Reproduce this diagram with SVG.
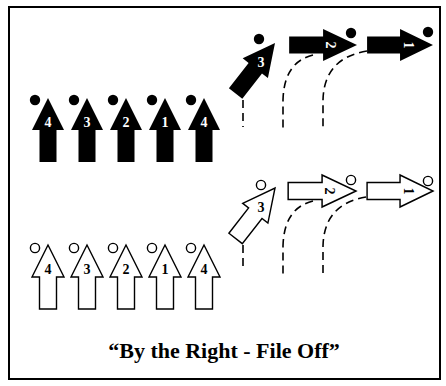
<svg xmlns="http://www.w3.org/2000/svg" xmlns:xlink="http://www.w3.org/1999/xlink" width="446" height="386" viewBox="0 0 446 386">
<style>
.blk{fill:#000}
.wht{fill:#fff;stroke:#000;stroke-width:1.4}
.dot{fill:#000}
.odot{fill:#fff;stroke:#000;stroke-width:1.4}
.nw{font-family:"Liberation Serif",serif;font-weight:bold;font-size:14px;fill:#fff;text-anchor:middle}
.nb{font-family:"Liberation Serif",serif;font-weight:bold;font-size:14px;fill:#000;text-anchor:middle}
.dash{fill:none;stroke:#000;stroke-width:1.6;stroke-dasharray:8,5}
.title{font-family:"Liberation Serif",serif;font-weight:bold;font-size:22px;fill:#000;text-anchor:middle}
</style>
<defs>
<path id="arr" d="M0,0 L16,32 L8.5,32 L8.5,64 L-8.5,64 L-8.5,32 L-16,32 Z"/>
</defs>
<rect width="446" height="386" fill="#fff"/>
<rect x="9" y="7" width="431" height="372" fill="none" stroke="#000" stroke-width="2"/>

<g id="connectors">
<path class="dash" d="M243,100 L243,127"/>
<path class="dash" d="M313,55 Q284,62 283,100 L283,128"/>
<path class="dash" d="M367,51 Q324,58 323,100 L323,128"/>
<path class="dash" d="M243,245 L243,270"/>
<path class="dash" d="M313,201 Q284,208 283,246 L283,275"/>
<path class="dash" d="M366,197 Q324,204 323,246 L323,275"/>
</g>

<g id="b-row-4a"><use xlink:href="#arr" class="blk" transform="translate(48,98)"/><circle class="dot" cx="35" cy="100" r="5.2"/><text class="nw" x="48" y="127">4</text></g>
<g id="b-row-3"><use xlink:href="#arr" class="blk" transform="translate(87,98)"/><circle class="dot" cx="74" cy="100" r="5.2"/><text class="nw" x="87" y="127">3</text></g>
<g id="b-row-2"><use xlink:href="#arr" class="blk" transform="translate(126,98)"/><circle class="dot" cx="113" cy="100" r="5.2"/><text class="nw" x="126" y="127">2</text></g>
<g id="b-row-1"><use xlink:href="#arr" class="blk" transform="translate(165,98)"/><circle class="dot" cx="152" cy="100" r="5.2"/><text class="nw" x="165" y="127">1</text></g>
<g id="b-row-4b"><use xlink:href="#arr" class="blk" transform="translate(204,98)"/><circle class="dot" cx="191" cy="100" r="5.2"/><text class="nw" x="204" y="127">4</text></g>

<g id="b-turn-3"><use xlink:href="#arr" class="blk" transform="translate(275,43) rotate(38)"/><circle class="dot" cx="259" cy="39" r="5.2"/><text class="nw" x="261" y="67">3</text></g>
<g id="b-file-2"><use xlink:href="#arr" class="blk" transform="translate(357,45) rotate(90) scale(1,1.06)"/><circle class="dot" cx="351" cy="33" r="5.2"/><text class="nw" transform="translate(331,45) rotate(90)" x="0" y="5">2</text></g>
<g id="b-file-1"><use xlink:href="#arr" class="blk" transform="translate(433,45) rotate(90) scale(1,1.03)"/><circle class="dot" cx="428" cy="32" r="5.2"/><text class="nw" transform="translate(409,45) rotate(90)" x="0" y="5">1</text></g>

<g id="w-row-4a"><use xlink:href="#arr" class="wht" transform="translate(48,245)"/><circle class="odot" cx="35" cy="248" r="4.6"/><text class="nb" x="48" y="274">4</text></g>
<g id="w-row-3"><use xlink:href="#arr" class="wht" transform="translate(87,245)"/><circle class="odot" cx="74" cy="248" r="4.6"/><text class="nb" x="87" y="274">3</text></g>
<g id="w-row-2"><use xlink:href="#arr" class="wht" transform="translate(126,245)"/><circle class="odot" cx="113" cy="248" r="4.6"/><text class="nb" x="126" y="274">2</text></g>
<g id="w-row-1"><use xlink:href="#arr" class="wht" transform="translate(165,245)"/><circle class="odot" cx="152" cy="248" r="4.6"/><text class="nb" x="165" y="274">1</text></g>
<g id="w-row-4b"><use xlink:href="#arr" class="wht" transform="translate(204,245)"/><circle class="odot" cx="191" cy="248" r="4.6"/><text class="nb" x="204" y="274">4</text></g>

<g id="w-turn-3"><use xlink:href="#arr" class="wht" transform="translate(275,188) rotate(38)"/><circle class="odot" cx="261" cy="185" r="4.6"/><text class="nb" x="261" y="212">3</text></g>
<g id="w-file-2"><use xlink:href="#arr" class="wht" transform="translate(356,191) rotate(90) scale(1,1.06)"/><circle class="odot" cx="351" cy="180" r="4.6"/><text class="nb" transform="translate(330,191) rotate(90)" x="0" y="5">2</text></g>
<g id="w-file-1"><use xlink:href="#arr" class="wht" transform="translate(433,191) rotate(90) scale(1,1.03)"/><circle class="odot" cx="428" cy="181" r="4.6"/><text class="nb" transform="translate(409,191) rotate(90)" x="0" y="5">1</text></g>

<text class="title" x="224" y="358">“By the Right - File Off”</text>
</svg>
